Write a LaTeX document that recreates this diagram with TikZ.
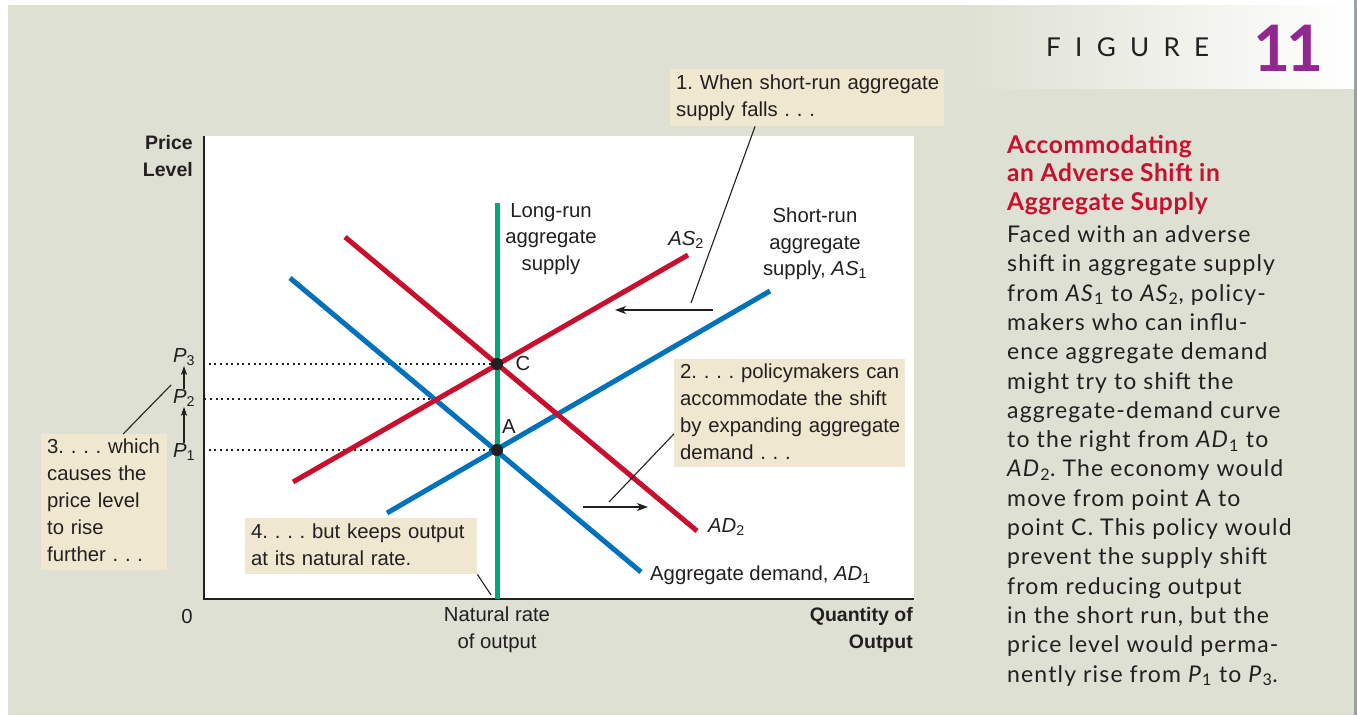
\documentclass[tikz,border=0pt]{standalone}
\usepackage{fontspec}
\setmainfont{Liberation Sans}
\newfontfamily\capfont[LetterSpace=5]{Lato}
\newfontfamily\headfont[LetterSpace=2.5]{Lato}
\newfontfamily\figfont[LetterSpace=55]{Lato}
\usetikzlibrary{arrows.meta,positioning,calc}
\frenchspacing

\definecolor{bggrey}{RGB}{221,224,210}
\definecolor{notebeige}{RGB}{239,231,208}
\definecolor{asred}{RGB}{200,16,46}
\definecolor{adblue}{RGB}{0,114,188}
\definecolor{lrgreen}{RGB}{0,169,120}
\definecolor{figpurple}{RGB}{146,39,143}
\definecolor{inkgrey}{RGB}{35,31,32}
\definecolor{edgegrey}{RGB}{155,159,163}

\begin{document}
\begin{tikzpicture}[x=1pt,y=-1pt,
lbl/.style={inner sep=0pt,text=inkgrey,font=\fontsize{20.3}{26.6}\selectfont},
axlbl/.style={inner sep=0pt,text=inkgrey,font=\bfseries\fontsize{19.5}{27}\selectfont},
note/.style={anchor=north west,fill=notebeige,inner xsep=6pt,inner ysep=0pt,align=left,text=inkgrey,font=\fontsize{20.3}{27}\selectfont},
redline/.style={asred,line width=5pt},
blueline/.style={adblue,line width=5pt},
dotline/.style={inkgrey,line width=2pt,dash pattern=on 2pt off 3.6pt},
dot/.style={circle,fill=inkgrey,inner sep=0pt,minimum size=12pt},
lead/.style={inkgrey,line width=1.1pt},
shiftarr/.style={inkgrey,line width=1.3pt,-{Stealth[length=11pt,width=8pt,inset=3pt]}},
parr/.style={inkgrey,line width=1.3pt,-{Stealth[length=9pt,width=6pt,inset=2pt]}}
]
% frame and header
\useasboundingbox (0,0) rectangle (1357,715);
\fill[bggrey] (8,5) rectangle (1354,715);
\fill[edgegrey] (1354,0) rectangle (1357,715);
\shade[left color=bggrey,right color=white] (960,5) rectangle (1354,88);
\fill[white] (204,136) rectangle (914,599);

% axes
\coordinate (o) at (204,599);
\draw[inkgrey,line width=2pt] (204,136) -- (o) -- (914,599);

% equilibrium points
\node[dot] (C) at (497,364) {};
\node[dot] (A) at (497,450) {};
\coordinate (B) at (436,399);

\draw[dotline] (C) -- (C -| o);
\draw[dotline] (B) -- (B -| o);
\draw[dotline] (A) -- (A -| o);

% curves
\draw[blueline] (290,278) -- (641,572);
\draw[blueline] (387,513) -- (770,291);
\draw[redline] (293,482) -- (688,255);
\draw[redline] (345,237) -- (697,531);
\draw[lrgreen,line width=5pt] (497,203) -- (497,599);
\node[dot] at (C) {};
\node[dot] at (A) {};

% curve labels
\node[lbl,align=center] (lrasl) at (551,239) {Long-run\\aggregate\\supply};
\node[lbl,align=center] (as1l) at (815,244) {Short-run\\aggregate\\supply, \textit{AS}\textsubscript{1}};
\node[lbl] (as2l) at (686,240) {\textit{AS}\textsubscript{2}};
\node[lbl,anchor=west] (ad2l) at (708,527) {\textit{AD}\textsubscript{2}};
\node[lbl,anchor=west] (ad1l) at (650,575) {Aggregate demand, \textit{AD}\textsubscript{1}};
\node[lbl] (cl) at (523,364) {C};
\node[lbl] (al) at (509,427) {A};

% axis labels
\node[lbl] (zero) at (187,617) {0};
\node[lbl,align=center] (natl) at (497,630) {Natural rate\\of output};
\node[axlbl,align=right,anchor=east] (qty) at (913,630) {Quantity of\\Output};
\node[axlbl,align=right,anchor=east] (price) at (193,156) {Price\\Level};
\node[lbl] (p3) at (184,357) {\textit{P}\textsubscript{3}};
\node[lbl] (p2) at (184,398) {\textit{P}\textsubscript{2}};
\node[lbl] (p1) at (184,452) {\textit{P}\textsubscript{1}};
\draw[parr] (p1) -- (p2);
\draw[parr] (p2) -- (p3);

% notes
\node[note,text width=262,minimum height=57] (box1) at (670,69) {\begin{tabular}{@{}l@{}}1. When short-run aggregate\\supply falls . . .\end{tabular}};
\node[note,text width=219,minimum height=108] (box2) at (674,359) {\begin{tabular}{@{}l@{}}2. . . . policymakers can\\accommodate the shift\\by expanding aggregate\\demand . . .\end{tabular}};
\node[note,text width=114,minimum height=136] (box3) at (41,434) {\begin{tabular}{@{}l@{}}3. . . . which\\causes the\\price level\\to rise\\further . . .\end{tabular}};
\node[note,text width=220,minimum height=56] (box4) at (245,518) {\begin{tabular}{@{}l@{}}4. . . . but keeps output\\at its natural rate.\end{tabular}};

% shift arrows and leaders
\coordinate (asfrom) at (713,310);
\coordinate (asto) at (615,310);
\coordinate (adfrom) at (583,507);
\coordinate (adto) at (648,507);
\draw[shiftarr] (asfrom) -- (asto);
\draw[shiftarr] (adfrom) -- (adto);
\draw[lead] ($(box1.south west)!0.31!(box1.south east)$) -- (691,303);
\draw[lead] ($(box2.south west)!0.31!(box2.north west)$) -- (609,502);
\draw[lead] ($(box3.north west)!0.65!(box3.north east)$) -- (171,385);
\draw[lead] (box4.south east) -- (491,595);

% caption
\node[anchor=base west,inner sep=0pt,font=\figfont\fontsize{26}{26}\selectfont,text=inkgrey] (figword) at (1046,56) {FIGURE};
\node[anchor=base west,inner sep=0pt,font=\headfont\bfseries\fontsize{64}{64}\selectfont,text=figpurple] (fignum) at (1253,71) {1\kern-4pt1};
\node[anchor=base west,inner sep=0pt,align=left,text=asred,font=\headfont\bfseries\fontsize{24.5}{28.5}\selectfont] (title) at (1007,210) {Accommodating\\an Adverse Shift in\\Aggregate Supply};
\node[anchor=base west,inner sep=0pt,align=left,text=inkgrey,font=\capfont\fontsize{23}{29.3}\selectfont] (body) at (1007,682) {Faced with an adverse\\shift in aggregate supply\\from \textit{AS}\textsubscript{1} to \textit{AS}\textsubscript{2}, policy-\\makers who can influ-\\ence aggregate demand\\might try to shift the\\aggregate-demand curve\\to the right from \textit{AD}\textsubscript{1} to\\\textit{AD}\textsubscript{2}. The economy would\\move from point A to\\point C. This policy would\\prevent the supply shift\\from reducing output\\in the short run, but the\\price level would perma-\\nently rise from \textit{P}\textsubscript{1} to \textit{P}\textsubscript{3}.};
\end{tikzpicture}
\end{document}
